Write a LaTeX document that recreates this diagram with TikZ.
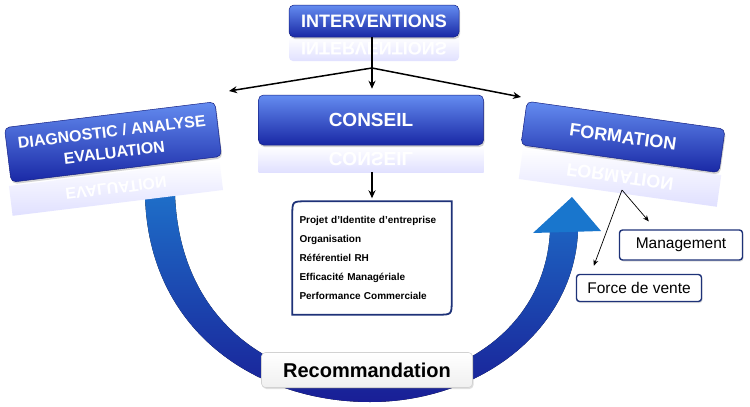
\documentclass[tikz,border=0pt]{standalone}
\usepackage{fontspec}
\setmainfont{Liberation Sans}
\usetikzlibrary{arrows.meta,shadows,calc}
\definecolor{bxtop}{RGB}{100,140,240}
\definecolor{bxmid}{RGB}{40,75,215}
\definecolor{bxbot}{RGB}{25,40,165}
\definecolor{arrtop}{RGB}{30,110,200}
\definecolor{arrbot}{RGB}{25,30,150}
\definecolor{arrhead}{RGB}{25,118,205}
\definecolor{navy}{RGB}{30,50,120}
\begin{document}
\begin{tikzpicture}[x=1pt,y=-1pt,
  bluebox/.style={rounded corners=5pt, top color=bxtop, middle color=bxmid, bottom color=bxbot,
    draw=bxbot!80!black, line width=0.5pt, text=white, align=center, inner sep=2pt,
    drop shadow={opacity=0.35, shadow xshift=1pt, shadow yshift=-2pt}},
  reflbox/.style={top color=white, bottom color=blue!12, draw=none, text=white,
    align=center, inner sep=0pt},
  smallbox/.style={draw=navy, line width=1.4pt, rounded corners=3pt, fill=white, inner sep=0pt,
    font=\fontsize{15.5}{17}\selectfont, drop shadow={opacity=0.25, shadow xshift=1pt, shadow yshift=-1.5pt}},
  conn/.style={line width=1.5pt, -{Stealth[length=8pt,width=7pt]}},
  thin/.style={line width=0.7pt, -{Stealth[length=6pt,width=5pt]}}]
\useasboundingbox (0,0) rectangle (750,407);
\fill[white] (0,0) rectangle (750,407);

% big U arrow
\fill[top color=arrtop, bottom color=arrbot]
  (145,195) .. controls (148,330) and (255,402) .. (370,402)
  .. controls (480,402) and (574,330) .. (578,231)
  -- (550,231) .. controls (546,320) and (470,381) .. (370,383)
  .. controls (270,381) and (180,320) .. (175,195) -- cycle;
\fill[arrhead] (533,233) -- (572,197) -- (601,231) -- cycle;

% reflections
\node[reflbox, minimum width=170pt, minimum height=24pt, yscale=-1, rounded corners=4pt,
  font=\bfseries\fontsize{18}{20}\selectfont] (intervr) at (374,49) {INTERVENTIONS};
\node[reflbox, minimum width=225pt, minimum height=26pt, yscale=-1,
  font=\bfseries\fontsize{19}{21}\selectfont] (conseilr) at (371,159) {CONSEIL};
\node[reflbox, minimum width=212pt, minimum height=30pt, rotate=7, yscale=-1,
  font=\bfseries\fontsize{16}{18}\selectfont] (diagr) at (116,188) {EVALUATION};
\node[reflbox, minimum width=200pt, minimum height=32pt, rotate=-8, yscale=-1,
  font=\bfseries\fontsize{18}{20}\selectfont] (formr) at (620,177) {FORMATION};

% boxes
\node[bluebox, minimum width=170pt, minimum height=32pt, font=\bfseries\fontsize{18}{20}\selectfont]
  (interv) at (374,21) {INTERVENTIONS};
\node[bluebox, minimum width=225pt, minimum height=50pt, font=\bfseries\fontsize{19}{21}\selectfont]
  (conseil) at (371,120) {CONSEIL};
\node[bluebox, minimum width=212pt, minimum height=55pt, rotate=7, font=\bfseries\fontsize{16}{21}\selectfont]
  (diag) at (113,142) {DIAGNOSTIC / ANALYSE\\ EVALUATION};
\node[bluebox, minimum width=200pt, minimum height=44pt, rotate=-8, font=\bfseries\fontsize{18}{20}\selectfont]
  (form) at (623,137) {FORMATION};

% connectors from INTERVENTIONS
\coordinate (split) at (372,68);
\coordinate (ltip) at (229,91);
\coordinate (rtip) at (521,97);
\draw[conn, shorten >=6pt] (intervr.south -| split) -- (conseil.north -| split);
\draw[conn] (split) -- (ltip);
\draw[conn] (split) -- (rtip);

% list box
\node[minimum width=159pt, minimum height=113pt, text width=145pt, align=left, inner sep=0pt,
  font=\bfseries\fontsize{10}{18.8}\selectfont] (list) at (372,258)
  {Projet d'Identite d'entreprise\\ Organisation\\ Référentiel RH\\ Efficacité Managériale\\ Performance Commerciale};
\draw[navy, line width=1.8pt]
  (list.south west) -- ($(list.north west)+(0,14)$) .. controls (list.north west) .. ($(list.north west)+(14,0)$)
  -- (list.north east) -- ($(list.south east)+(0,-14)$) .. controls (list.south east) .. ($(list.south east)+(-14,0)$)
  -- cycle;
\draw[conn, shorten >=3pt] (conseilr.north -| list.north) -- (list.north);

% formation sub-boxes
\node[smallbox, minimum width=123pt, minimum height=30pt] (mgmt) at (681,245) {Management};
\node[smallbox, minimum width=125pt, minimum height=27pt] (force) at (639,288) {Force de vente};
\coordinate (fapex) at (622,190);
\draw[thin] (fapex) -- ([xshift=30pt,yshift=8pt]mgmt.north west);
\draw[thin] (fapex) -- ([xshift=18pt,yshift=8pt]force.north west);

% recommandation
\node[rounded corners=4pt, top color=white, bottom color=gray!12, draw=gray!35, line width=0.6pt,
  minimum width=211pt, minimum height=35pt, font=\bfseries\fontsize{20}{22}\selectfont,
  drop shadow={opacity=0.25, shadow xshift=1pt, shadow yshift=-1.5pt}] (reco) at (367,370) {Recommandation};
\end{tikzpicture}
\end{document}
